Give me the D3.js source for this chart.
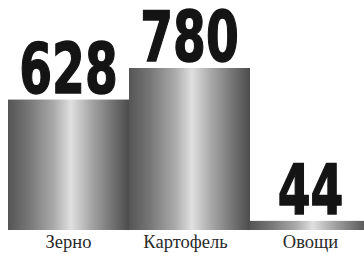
<!DOCTYPE html>
<html>
<head>
<meta charset="utf-8">
<script src="https://cdn.jsdelivr.net/npm/d3@7"></script>
<style>
  body { margin: 0; background: #fff; }
  .num { font-family: "DejaVu Sans Condensed", "DejaVu Sans", sans-serif; font-weight: bold; fill: #141414; stroke: #141414; stroke-width: 1.4; }
  .lbl { font-family: "Liberation Serif", "DejaVu Serif", serif; font-size: 18.5px; fill: #2a2a2a; }
</style>
</head>
<body>
<div id="chart"></div>
<script>
const categories = ['Зерно', 'Картофель', 'Овощи'];
const values = [628, 780, 44];

const width = 364;
const height = 266;

const svg = d3.select('#chart')
  .append('svg')
  .attr('width', width)
  .attr('height', height);

const x = d3.scaleBand()
  .domain(categories)
  .range([8, 371])
  .padding(0);

const y = d3.scaleLinear()
  .domain([0, 780])
  .range([230, 68]);

// gradiente tipo cilindro
const defs = svg.append('defs');
const grad = defs.append('linearGradient')
  .attr('id', 'cyl')
  .attr('x1', 0).attr('x2', 1)
  .attr('y1', 0).attr('y2', 0);
[[0, '#555555'], [0.18, '#787878'], [0.38, '#aaaaaa'], [0.52, '#e0e0e0'],
 [0.68, '#a8a8a8'], [0.86, '#737373'], [1, '#4c4c4c']]
  .forEach(s => grad.append('stop').attr('offset', s[0]).attr('stop-color', s[1]));

const data = categories.map((c, i) => ({ cat: c, value: values[i] }));

svg.selectAll('rect.bar')
  .data(data)
  .join('rect')
  .attr('class', 'bar')
  .attr('x', d => x(d.cat))
  .attr('y', d => y(d.value))
  .attr('width', x.bandwidth())
  .attr('height', d => y(0) - y(d.value))
  .attr('fill', 'url(#cyl)');

// numeros, comprimidos en horizontal
svg.selectAll('text.num')
  .data(data)
  .join('text')
  .attr('class', 'num')
  .attr('text-anchor', 'middle')
  .attr('transform', d => `translate(${x(d.cat) + x.bandwidth() / 2},${y(d.value) - 7}) scale(0.76,1)`)
  .style('font-size', '69px')
  .text(d => d.value);

// etiquetas
svg.selectAll('text.lbl')
  .data(data)
  .join('text')
  .attr('class', 'lbl')
  .attr('text-anchor', 'middle')
  .attr('x', d => x(d.cat) + x.bandwidth() / 2 - (d.cat === 'Картофель' ? 4 : 0))
  .attr('y', 248)
  .text(d => d.cat);
</script>
</body>
</html>
